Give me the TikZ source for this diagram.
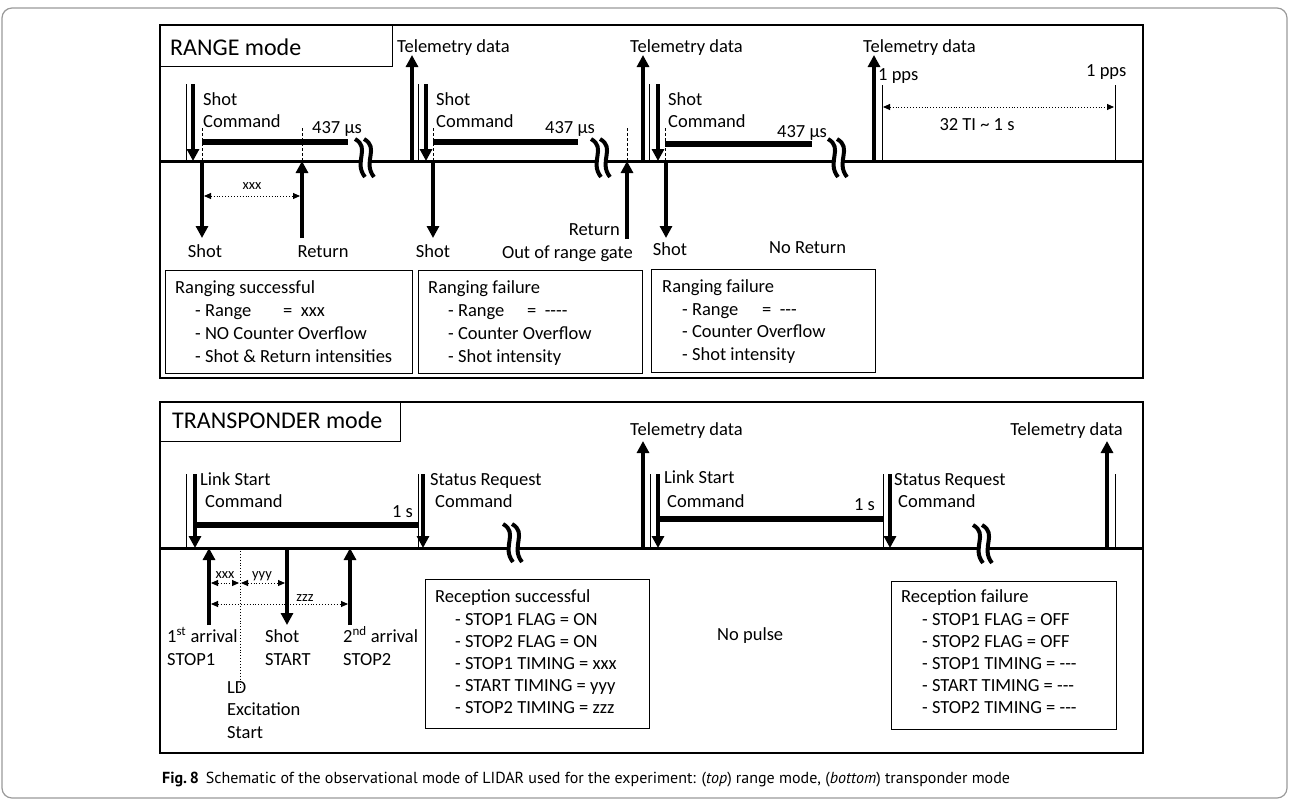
\documentclass[tikz,border=0pt]{standalone}
\usepackage{fontspec}
\setmainfont{Carlito}
\newfontfamily\capfont{PT Sans}
\usetikzlibrary{arrows.meta}
\newcommand{\hy}{\mbox{-}}
\newcommand{\brkmark}[2]{%
  \begin{scope}[shift={(#1,#2)}]
    \fill[white] (-9,-19) .. controls (7,-10) and (-11,4) .. (1,19) -- (10,19) .. controls (-2,4) and (16,-10) .. (0,-19) -- cycle;
    \draw[brkln] (-9,-19) .. controls (7,-10) and (-11,4) .. (1,19);
    \draw[brkln] (0,-19) .. controls (16,-10) and (-2,4) .. (10,19);
  \end{scope}}
\begin{document}
\begin{tikzpicture}[x=1pt,y=-1pt,
  lbl/.style={inner sep=0pt, anchor=base west, font=\fontsize{18.5}{22}\selectfont},
  lblc/.style={inner sep=0pt, anchor=base, font=\fontsize{18.5}{22}\selectfont},
  lble/.style={inner sep=0pt, anchor=base east, font=\fontsize{18.5}{22}\selectfont},
  ttl/.style={inner sep=0pt, anchor=base west, font=\fontsize{24}{28}\selectfont},
  small/.style={inner sep=0pt, anchor=base, font=\fontsize{14.5}{17}\selectfont},
  thickarr/.style={line width=3.6pt, -{Triangle[width=12pt,length=12pt]}},
  thinln/.style={line width=1pt},
  barln/.style={line width=6pt},
  brkln/.style={line width=4pt, line cap=butt},
  dashv/.style={line width=0.9pt, dash pattern=on 3pt off 2pt},
  dimarr/.style={line width=0.9pt, dotted, {Triangle[width=6pt,length=7pt]}-{Triangle[width=6pt,length=7pt]}},
  panel/.style={line width=2.2pt},
  boxln/.style={line width=1pt}
]
\useasboundingbox (0,0) rectangle (1290,801);
% outer frame
\draw[line width=1.2pt, gray!80] (2,8) [rounded corners=10pt] -- (1287,8) -- (1287,798) -- (2,798) -- cycle;

%================ RANGE mode =================
\draw[panel] (160,25) rectangle (1143,378);
\draw[boxln] (160,25) rectangle (392,66);
\node[ttl] (rtitle) at (170,55) {RANGE mode};
\draw[line width=3pt] (160,161) -- (1143,161);

% --- segment 1
\draw[thinln] (186,84) -- (186,161);
\draw[thickarr] (193,84) -- (193,161);
\node[lbl] (sc1a) at (203,105) {Shot};
\node[lbl] (sc1b) at (203,127) {Command};
\draw[dashv] (202,128) -- (202,161);
\draw[dashv] (302,128) -- (302,161);
\draw[barln] (202,142) -- (348,142);
\brkmark{364}{158}
\node[lbl] (t1) at (312,133) {437 µs};
\draw[thickarr] (202,161) -- (202,238);
\draw[thickarr] (302,238) -- (302,161);
\draw[dimarr] (204,196) -- (300,196);
\node[small] (x1) at (252,189) {xxx};
\node[lblc] (shot1) at (205,257) {Shot};
\node[lblc] (ret1) at (323,257) {Return};
\draw[boxln] (165,270) rectangle (412,373);
\node[lbl] at (175,293) {Ranging successful};
\node[lbl] at (195,316) {\hy{} Range};
\node[lbl] at (283,316) {=\ \ xxx};
\node[lbl] at (195,339) {\hy{} NO Counter Overflow};
\node[lbl] at (195,362) {\hy{} Shot \& Return intensities};

% --- segment 2
\draw[thickarr] (412,161) -- (412,55);
\node[lbl] (tel1) at (397,52) {Telemetry data};
\draw[thinln] (418,84) -- (418,161);
\draw[thickarr] (426,84) -- (426,161);
\node[lbl] at (436,105) {Shot};
\node[lbl] at (436,127) {Command};
\draw[dashv] (433,128) -- (433,161);
\draw[barln] (433,142) -- (578,142);
\brkmark{600}{158}
\node[lbl] at (545,133) {437 µs};
\draw[dashv] (627,128) -- (627,161);
\draw[thickarr] (433,161) -- (433,238);
\draw[thickarr] (627,239) -- (627,161);
\node[lblc] at (433,257) {Shot};
\node[lble] at (620,235) {Return};
\node[lble] at (633,258) {Out of range gate};
\draw[boxln] (418,270) rectangle (642,373);
\node[lbl] at (428,293) {Ranging failure};
\node[lbl] at (448,316) {\hy{} Range};
\node[lbl] at (527,316) {=\ \ \hy\hy\hy\hy};
\node[lbl] at (448,339) {\hy{} Counter Overflow};
\node[lbl] at (448,362) {\hy{} Shot intensity};

% --- segment 3
\draw[thickarr] (643,161) -- (643,55);
\node[lbl] (tel2) at (630,52) {Telemetry data};
\draw[thinln] (649,84) -- (649,161);
\draw[thickarr] (658,84) -- (658,161);
\node[lbl] at (668,105) {Shot};
\node[lbl] at (668,127) {Command};
\draw[dashv] (665,128) -- (665,161);
\draw[barln] (665,144) -- (812,144);
\brkmark{837}{158}
\node[lbl] at (777,137) {437 µs};
\draw[thickarr] (666,161) -- (666,238);
\node[lblc] at (670,255) {Shot};
\node[lbl] at (769,253) {No Return};
\draw[boxln] (651,269) rectangle (875,372);
\node[lbl] at (662,292) {Ranging failure};
\node[lbl] at (682,315) {\hy{} Range};
\node[lbl] at (762,315) {=\ \ \hy\hy\hy};
\node[lbl] at (682,337) {\hy{} Counter Overflow};
\node[lbl] at (682,360) {\hy{} Shot intensity};

% --- segment 4
\draw[thickarr] (874,161) -- (874,55);
\node[lbl] (tel3) at (863,52) {Telemetry data};
\draw[thinln] (882,85) -- (882,161);
\draw[thinln] (1115,85) -- (1115,161);
\node[lbl] at (878,80) {1 pps};
\node[lbl] at (1086,76) {1 pps};
\draw[dimarr] (883,107) -- (1114,107);
\node[lblc] at (977,130) {32 TI \char"007E{} 1 s};

%================ TRANSPONDER mode =================
\draw[panel] (160,402) rectangle (1143,753);
\draw[boxln] (160,402) rectangle (400,441);
\node[ttl] (ttitle) at (172,428) {TRANSPONDER mode};
\draw[line width=3pt] (160,548) -- (1143,548);

% --- segment 1
\draw[thinln] (186,474) -- (186,548);
\draw[thickarr] (195,474) -- (195,548);
\node[lbl] at (200,485) {Link Start};
\node[lbl] at (205,507) {Command};
\draw[barln] (195,525) -- (418,525);
\node[lble] at (413,517) {1 s};
\draw[thinln] (418,474) -- (418,548);
\draw[thickarr] (423,474) -- (423,548);
\node[lbl] at (430,485) {Status Request};
\node[lbl] at (435,507) {Command};
\brkmark{512}{543}

\draw[thickarr] (209,625) -- (209,548);
\draw[thickarr] (287,548) -- (287,625);
\draw[thickarr] (350,625) -- (350,548);
\draw[line width=0.9pt, dotted] (240,548) -- (240,688);
\draw[dimarr] (211,583) -- (239,583);
\draw[dimarr] (241,583) -- (285,583);
\draw[dimarr] (211,604) -- (348,604);
\node[small] at (225,578) {xxx};
\node[small] at (262,578) {yyy};
\node[small] at (305,601) {zzz};
\node[lbl] at (167,642) {1\textsuperscript{st} arrival};
\node[lbl] at (167,665) {STOP1};
\node[lbl] at (265,642) {Shot};
\node[lbl] at (265,665) {START};
\node[lbl] at (343,642) {2\textsuperscript{nd} arrival};
\node[lbl] at (343,665) {STOP2};
\node[lbl] at (227,693) {LD};
\node[lbl] at (227,715) {Excitation};
\node[lbl] at (227,738) {Start};

\draw[boxln] (425,579) rectangle (649,728);
\node[lbl] at (435,602) {Reception successful};
\node[lbl] at (455,625) {\hy{} STOP1 FLAG = ON};
\node[lbl] at (455,647) {\hy{} STOP2 FLAG = ON};
\node[lbl] at (455,669) {\hy{} STOP1 TIMING = xxx};
\node[lbl] at (455,691) {\hy{} START TIMING = yyy};
\node[lbl] at (455,713) {\hy{} STOP2 TIMING = zzz};

\node[lbl] at (717,640) {No pulse};

% --- segment 2
\draw[thickarr] (643,548) -- (643,441);
\node[lbl] at (630,435) {Telemetry data};
\draw[thinln] (650,474) -- (650,548);
\draw[thickarr] (658,474) -- (658,548);
\node[lbl] at (664,483) {Link Start};
\node[lbl] at (667,507) {Command};
\draw[barln] (658,519) -- (883,519);
\node[lble] at (875,510) {1 s};
\draw[thinln] (883,474) -- (883,548);
\draw[thickarr] (890,474) -- (890,548);
\node[lbl] at (894,485) {Status Request};
\node[lbl] at (898,507) {Command};
\brkmark{982}{544}
\draw[thickarr] (1107,548) -- (1107,441);
\draw[thinln] (1115,474) -- (1115,548);
\node[lble] at (1123,435) {Telemetry data};

\draw[boxln] (891,581) rectangle (1116,729);
\node[lbl] at (901,602) {Reception failure};
\node[lbl] at (922,625) {\hy{} STOP1 FLAG = OFF};
\node[lbl] at (922,647) {\hy{} STOP2 FLAG = OFF};
\node[lbl] at (922,669) {\hy{} STOP1 TIMING = \hy\hy\hy};
\node[lbl] at (922,691) {\hy{} START TIMING = \hy\hy\hy};
\node[lbl] at (922,713) {\hy{} STOP2 TIMING = \hy\hy\hy};

% caption
\node[inner sep=0pt, anchor=base west, font=\capfont\fontsize{16}{19}\selectfont] (cap) at (162,783)
  {\textbf{Fig.\,8}\hspace{7pt}Schematic of the observational mode of LIDAR used for the experiment: (\textit{top}) range mode, (\textit{bottom}) transponder mode};
\end{tikzpicture}
\end{document}
